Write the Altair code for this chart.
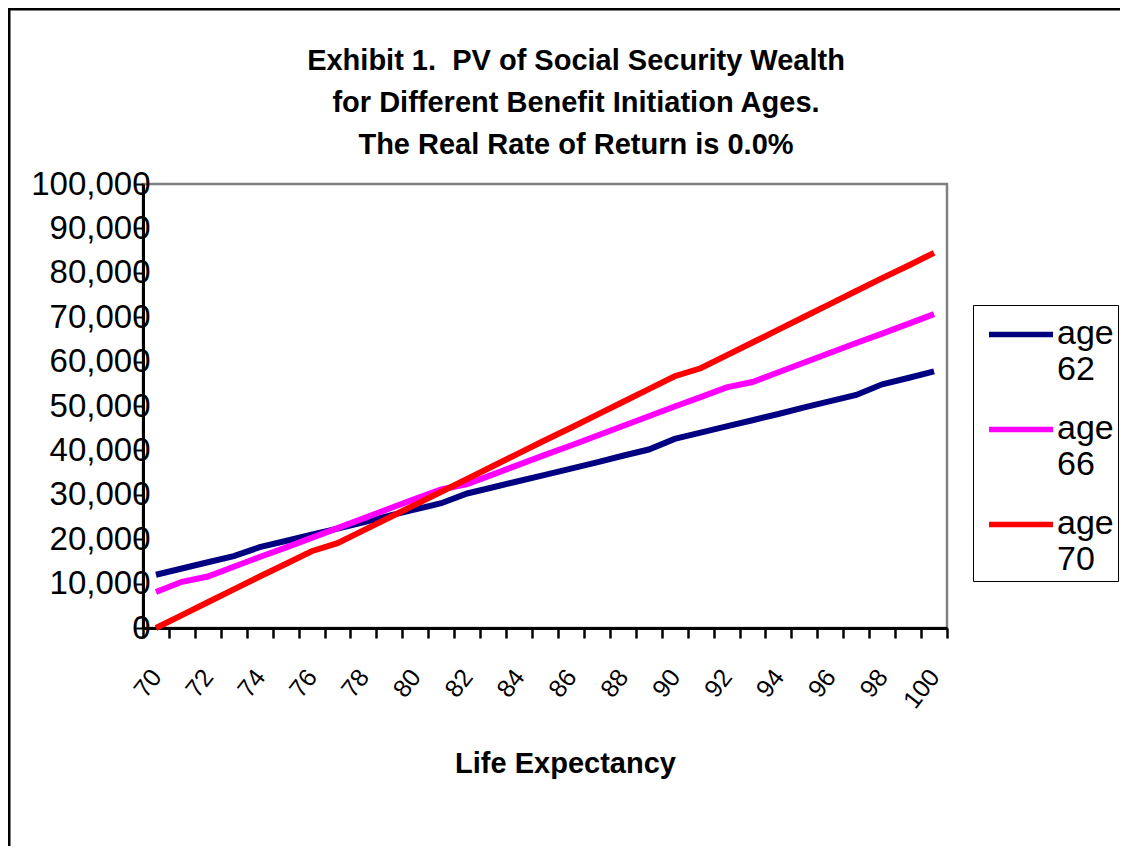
import altair as alt
import pandas as pd

life = list(range(70, 101))
age62 = [12.0, 13.4, 14.8, 16.2, 18.2, 19.6, 21.0, 22.4, 23.8, 25.3, 26.7,
         28.1, 30.3, 31.7, 33.1, 34.5, 35.9, 37.3, 38.8, 40.2, 42.6,
         44.0, 45.4, 46.8, 48.2, 49.7, 51.1, 52.5, 54.9, 56.3, 57.8]
age66 = [8.1, 10.4, 11.6, 13.8, 16.0, 18.1, 20.3, 22.5, 24.7, 26.9, 29.1,
         31.2, 32.4, 34.6, 36.8, 39.0, 41.1, 43.3, 45.5, 47.7, 49.9,
         52.0, 54.2, 55.4, 57.6, 59.8, 62.0, 64.2, 66.3, 68.5, 70.7]
age70 = [0.0, 2.9, 5.8, 8.7, 11.6, 14.4, 17.3, 19.1, 22.0, 24.9, 27.8,
         30.7, 33.6, 36.5, 39.4, 42.3, 45.1, 48.0, 50.9, 53.8, 56.7,
         58.5, 61.4, 64.3, 67.2, 70.1, 73.0, 75.9, 78.8, 81.6, 84.5]
series_names = ["age 62", "age 66", "age 70"]
series_colors = ["#000080", "#FF00FF", "#FF0000"]
title_lines = ["Exhibit 1.\u00a0 PV of Social Security Wealth",
               "for Different Benefit Initiation Ages.",
               "The Real Rate of Return is 0.0%"]

rows = []
for name, vals in zip(series_names, [age62, age66, age70]):
    for L, v in zip(life, vals):
        rows.append({"life": L, "value": v * 1000, "series": name})
df = pd.DataFrame(rows)

FONT = "Liberation Sans"

lines = alt.Chart(df).mark_line(strokeWidth=6, clip=False).encode(
    x=alt.X("life:O", bandPosition=0.5,
            scale=alt.Scale(type="band", paddingInner=0, paddingOuter=0),
            axis=alt.Axis(title="Life Expectancy", tickBand="extent",
                          labelExpr="datum.value % 2 == 0 ? datum.label : ''",
                          labelAngle=-52, labelAlign="right", labelBaseline="middle",
                          labelFontSize=25, labelFont=FONT, labelColor="black",
                          labelPadding=34, tickSize=10, tickWidth=2.5, tickColor="black",
                          domainColor="black", domainWidth=3,
                          titleFont=FONT, titleFontSize=29, titleFontWeight="bold",
                          titleColor="black", titleX=422, titleY=144, titleAlign="center",
                          titleBaseline="alphabetic", grid=False)),
    y=alt.Y("value:Q",
            scale=alt.Scale(domain=[0, 100000], nice=False, zero=True),
            axis=alt.Axis(title=None, values=list(range(0, 100001, 10000)), format=",d",
                          labelFont=FONT, labelFontSize=33, labelColor="black",
                          labelPadding=-16, tickSize=9, tickWidth=2, tickColor="black",
                          domainColor="black", domainWidth=3, grid=False)),
    color=alt.Color("series:N",
                    scale=alt.Scale(domain=series_names, range=series_colors),
                    legend=alt.Legend(title=None, orient="none", legendX=830, legendY=121,
                                      symbolType="M-1,-0.3L1,-0.3", symbolSize=4096,
                                      symbolStrokeWidth=5.5, symbolOffset=9,
                                      labelFont=FONT, labelFontSize=34, labelColor="black",
                                      labelExpr="split(datum.label, ' ')",
                                      labelBaseline="alphabetic", labelOffset=1,
                                      strokeColor="black", padding=4, rowPadding=17,
                                      labelLimit=200)),
)

frame = alt.Chart(pd.DataFrame({"a": [0]})).mark_rect(
    fill="transparent", stroke="black", strokeWidth=3, clip=False
).encode(x=alt.value(-134), x2=alt.value(990), y=alt.value(-175), y2=alt.value(700))

chart = alt.layer(frame, lines).properties(
    width=804, height=444,
    background="white",
    title=alt.Title(text=title_lines, font=FONT, fontSize=29, fontWeight="bold",
                    color="black", lineHeight=42, anchor="middle", frame="group", dx=31,
                    offset=-181.5, baseline="bottom"),
    padding={"left": 135, "top": 176, "right": 173, "bottom": 218},
    autosize=alt.AutoSizeParams(type="none"),
).configure_view(stroke="#808080", strokeWidth=2.5)

chart.save("out.html", embed_options={"renderer": "svg", "actions": False})
